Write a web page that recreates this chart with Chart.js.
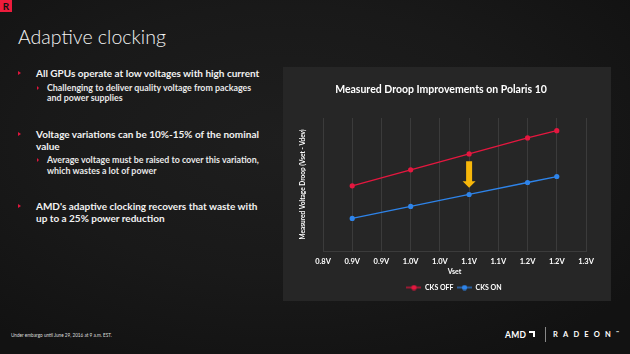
<!DOCTYPE html>
<html><head><meta charset="utf-8">
<script src="https://cdn.jsdelivr.net/npm/chart.js@4.4.1/dist/chart.umd.min.js"></script>
<style>
html,body{margin:0;padding:0}
body{width:630px;height:354px;overflow:hidden;position:relative;font-family:Lato,"Open Sans",sans-serif;color:#fff;
background:radial-gradient(ellipse 70% 70% at 45% 40%,#1e1e1e 0%,#191919 55%,#121212 100%)}
.t{position:absolute;white-space:nowrap;line-height:1;transform:translateY(-50%)}
#logoR{position:absolute;left:0;top:0;width:12px;height:12px;background:#ed1c3c;color:#111;font:700 10px Lato,sans-serif;text-align:center;line-height:12px}
.title{font-weight:300;font-size:20px;color:#f4f4f4}
.main{font-weight:700;font-size:11px;color:#f2f2f2}
.sub{font-weight:700;font-size:8.5px;color:#e8e8e8}
.foot{font-weight:400;font-size:5.5px;color:#ddd}
.tri{position:absolute;width:0;height:0;border-top:2.5px solid transparent;border-bottom:2.5px solid transparent;border-left:3px solid #e0163d;transform:translateY(-50%)}
#panel{position:absolute;left:283px;top:67px;width:328px;height:234px;background:#262626}
#wrap{position:absolute;left:283px;top:67px;width:328px;height:234px}
.amd{position:absolute;left:505px;top:334.5px;transform:translateY(-50%);font:700 8.5px Lato,sans-serif;color:#fff;letter-spacing:0.3px;line-height:1}
.amdmark{position:absolute;left:529px;top:330.5px;width:6px;height:6px;border-top:2px solid #fff;border-right:2px solid #fff;box-sizing:border-box}
.sep{position:absolute;left:545px;top:327px;width:1px;height:15px;background:#888}
.radeon{position:absolute;left:553px;top:334.5px;transform:translateY(-50%);font:700 7.5px Lato,sans-serif;color:#fff;letter-spacing:5.2px;line-height:1}
</style></head>
<body>
<div id="logoR">R</div>
<div class="t title" data-g="title" data-w="148" style="left:18px;top:37px">Adaptive clocking</div>

<div class="tri" style="left:18px;top:73px"></div>
<div class="t main" data-g="main" data-w="224" style="left:36px;top:73px">All GPUs operate at low voltages with high current</div>
<div class="tri" style="left:37px;top:87.5px;border-top-width:2px;border-bottom-width:2px;border-left-width:2.5px"></div>
<div class="t sub" data-g="sub" data-w="205" style="left:47px;top:87.5px">Challenging to deliver quality voltage from packages</div>
<div class="t sub" style="left:47px;top:98px">and power supplies</div>

<div class="tri" style="left:18px;top:133.5px"></div>
<div class="t main" style="left:36px;top:133.5px">Voltage variations can be 10%-15% of the nominal</div>
<div class="t main" style="left:36px;top:145.5px">value</div>
<div class="tri" style="left:37px;top:159.5px;border-top-width:2px;border-bottom-width:2px;border-left-width:2.5px"></div>
<div class="t sub" style="left:47px;top:159.5px">Average voltage must be raised to cover this variation,</div>
<div class="t sub" style="left:47px;top:170.5px">which wastes a lot of power</div>

<div class="tri" style="left:18px;top:205.5px"></div>
<div class="t main" style="left:36px;top:205.5px">AMD's adaptive clocking recovers that waste with</div>
<div class="t main" style="left:36px;top:217.5px">up to a 25% power reduction</div>

<div class="t foot" data-g="foot" data-w="101" style="left:11px;top:334.5px">Under embargo until June 29, 2016 at 9 a.m. EST.</div>
<div class="amd">AMD</div>
<div class="amdmark"></div>
<div class="sep"></div>
<div class="radeon">RADEON<span style="font-size:4px;vertical-align:top;letter-spacing:0">™</span></div>

<div id="panel"></div>
<div id="wrap"><canvas id="c" width="328" height="234"></canvas></div>

<script>
// ---- data ----
const chartTitle = 'Measured Droop Improvements on Polaris 10';
const xAxisTitle = 'Vset';
const yAxisTitle = 'Measured Voltage Droop (Vset - Vdev)';
const seriesNames = ['CKS OFF', 'CKS ON'];
const vset = [0.85, 0.95, 1.05, 1.15, 1.20];
const cksOff = [49, 61, 73, 85, 90.5];
const cksOn = [24.5, 33.5, 42.5, 51.5, 56];
const xTickLabels = ['0.8V','0.9V','0.9V','1.0V','1.0V','1.1V','1.1V','1.2V','1.2V','1.3V'];
const arrowX = [1.05];
const arrowFromTo = [67.5, 47.5];

// ---- fit text widths ----
(function(){
  const cv = document.createElement('canvas').getContext('2d');
  const groups = {};
  document.querySelectorAll('[data-g]').forEach(el=>{
    const cs = getComputedStyle(el);
    cv.font = cs.fontWeight + ' ' + cs.fontSize + ' ' + cs.fontFamily;
    const w = cv.measureText(el.textContent).width;
    groups[el.dataset.g] = parseFloat(cs.fontSize) * parseFloat(el.dataset.w) / w;
  });
  const map = {title:'.title', main:'.main', sub:'.sub', foot:'.foot'};
  for (const g in groups) document.querySelectorAll(map[g]).forEach(e=>e.style.fontSize = groups[g].toFixed(2)+'px');
})();

const RED = '#e5173f', BLUE = '#2e84ea';
function legendIcon(color){
  const c = document.createElement('canvas'); c.width = 15; c.height = 6;
  const x = c.getContext('2d');
  x.strokeStyle = color; x.lineWidth = 1.2; x.beginPath(); x.moveTo(0,3); x.lineTo(15,3); x.stroke();
  x.fillStyle = color; x.beginPath(); x.arc(7.5,3,2.6,0,Math.PI*2); x.fill();
  return c;
}
const icons = [legendIcon(RED), legendIcon(BLUE)];

const arrowPlugin = {
  id: 'arrow',
  afterDatasetsDraw(chart){
    const {ctx, scales:{x, y}} = chart;
    const px = x.getPixelForValue(arrowX[0]);
    const y0 = y.getPixelForValue(arrowFromTo[0]);
    const y1 = y.getPixelForValue(arrowFromTo[1]);
    const head = 6.5;
    ctx.save();
    ctx.fillStyle = '#f7b70a';
    ctx.beginPath();
    ctx.moveTo(px-3, y0); ctx.lineTo(px+3, y0); ctx.lineTo(px+3, y1-head);
    ctx.lineTo(px+6.5, y1-head); ctx.lineTo(px, y1); ctx.lineTo(px-6.5, y1-head);
    ctx.lineTo(px-3, y1-head); ctx.closePath(); ctx.fill();
    ctx.restore();
  }
};
const legendShift = {
  id: 'legendShift',
  afterLayout(chart){ if (chart.legend) { chart.legend.left += 13; chart.legend.right += 13; } }
};

const FONT = 'Lato';
new Chart(document.getElementById('c'), {
  type: 'line',
  data: {
    datasets: [
      {label: seriesNames[0], data: vset.map((v,i)=>({x:v, y:cksOff[i]})), borderColor: RED, backgroundColor: RED,
       borderWidth: 1.3, pointRadius: 2.6, pointBorderWidth: 0, tension: 0},
      {label: seriesNames[1], data: vset.map((v,i)=>({x:v, y:cksOn[i]})), borderColor: BLUE, backgroundColor: BLUE,
       borderWidth: 1.3, pointRadius: 2.6, pointBorderWidth: 0, tension: 0}
    ]
  },
  options: {
    responsive: false, animation: false, devicePixelRatio: 1,
    layout: {padding: {left: 13, right: 25, top: 0, bottom: 0}},
    plugins: {
      title: {display: true, text: chartTitle, color: '#fff', font: {family: FONT, size: 10.5, weight: 'bold'}, padding: {top: 16.7, bottom: 21.7}},
      legend: {
        position: 'bottom',
        labels: {
          color: '#fff', font: {family: FONT, size: 7, weight: 'bold'}, usePointStyle: true, pointStyleWidth: 15, boxHeight: 6, padding: 3.5,
          generateLabels(chart){
            return chart.data.datasets.map((d,i)=>({text: d.label, fillStyle: d.borderColor, strokeStyle: d.borderColor, lineWidth: 0,
              pointStyle: icons[i], datasetIndex: i, fontColor: '#fff', hidden: false}));
          }
        }
      },
      tooltip: {enabled: false}
    },
    scales: {
      x: {
        type: 'linear', min: 0.8, max: 1.25,
        afterBuildTicks(s){ s.ticks = xTickLabels.map((_,i)=>({value: +(0.8 + i*0.05).toFixed(2)})); },
        ticks: {color: '#fff', font: {family: FONT, size: 7.5, weight: 'bold'}, padding: 6.5, maxRotation: 0, autoSkip: false,
                callback: (v, i) => xTickLabels[i]},
        grid: {color: '#3b3b3b', lineWidth: 1, drawTicks: false},
        border: {color: '#3b3b3b'},
        title: {display: true, text: xAxisTitle, color: '#fff', font: {family: FONT, size: 7, weight: 'bold'}, padding: {top: 0.5, bottom: 5}},
        afterFit(s){ s.height = 29.5; }
      },
      y: {
        min: 0, max: 100,
        ticks: {display: false},
        grid: {display: false, drawTicks: false},
        border: {display: false},
        title: {display: true, text: yAxisTitle, color: '#fff', font: {family: FONT, size: 6.5, weight: 'bold'}, padding: {top: 3, bottom: 3}},
        afterFit(s){ s.width = 27; }
      }
    }
  },
  plugins: [arrowPlugin, legendShift]
});
</script>
</body></html>
